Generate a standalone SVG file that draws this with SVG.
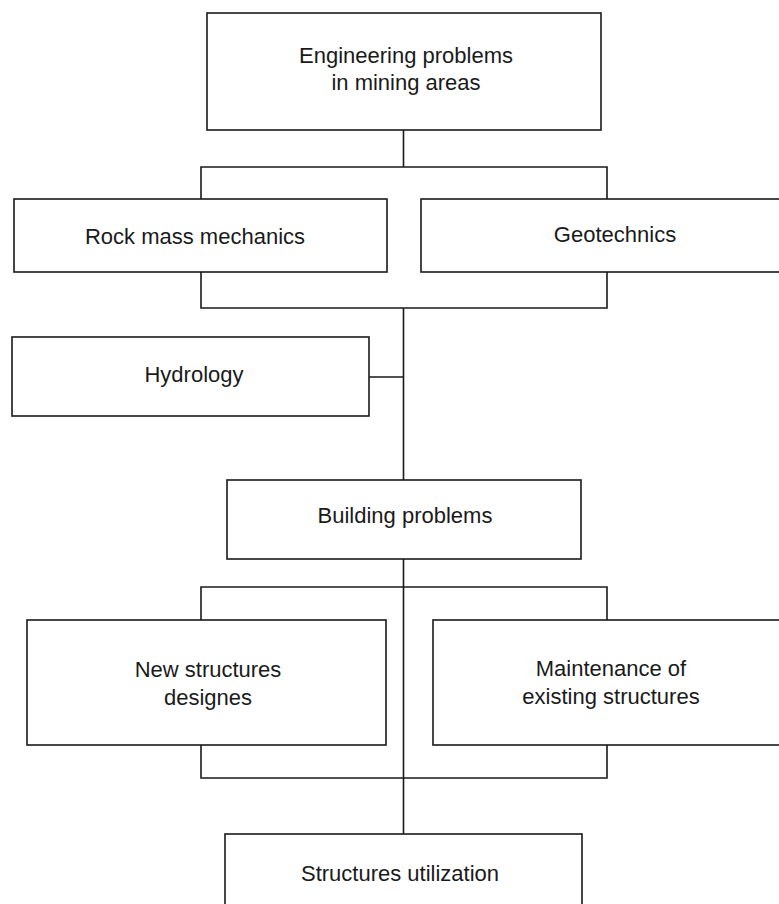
<svg xmlns="http://www.w3.org/2000/svg" width="779" height="904" viewBox="0 0 779 904">
<style>
.box{fill:#fff;stroke:#1a1a1a;stroke-width:1.6}
.ln{fill:none;stroke:#1a1a1a;stroke-width:1.6}
text{font-family:"Liberation Sans",Arial,sans-serif;font-size:22px;fill:#1a1a1a;text-anchor:middle}
</style>
<rect width="779" height="904" fill="#fff"/>
<g id="connectors" class="ln">
<path d="M403.5 130V167M201 199V167H607V199"/>
<path d="M201 272V308H607V272M403.5 308V480M369 377H403.5"/>
<path d="M403.5 559V778M201 620V587H607V620"/>
<path d="M201 745V778H607V745M403.5 778V834"/>
</g>
<g id="n-engineering"><rect class="box" x="207" y="13" width="394" height="117"/><text x="406" y="63">Engineering problems</text><text x="406" y="90">in mining areas</text></g>
<g id="n-rock"><rect class="box" x="14" y="199" width="373" height="73"/><text x="195" y="244">Rock mass mechanics</text></g>
<g id="n-geotechnics"><rect class="box" x="421" y="199" width="388" height="73"/><text x="615" y="242">Geotechnics</text></g>
<g id="n-hydrology"><rect class="box" x="12" y="337" width="357" height="79"/><text x="194" y="382">Hydrology</text></g>
<g id="n-building"><rect class="box" x="227" y="480" width="354" height="79"/><text x="405" y="523">Building problems</text></g>
<g id="n-new"><rect class="box" x="27" y="620" width="359" height="125"/><text x="208" y="677">New structures</text><text x="208" y="705">designes</text></g>
<g id="n-maintenance"><rect class="box" x="433" y="620" width="356" height="125"/><text x="611" y="676">Maintenance of</text><text x="611" y="704">existing structures</text></g>
<g id="n-utilization"><rect class="box" x="225" y="834" width="357" height="80"/><text x="400" y="881">Structures utilization</text></g>
</svg>
